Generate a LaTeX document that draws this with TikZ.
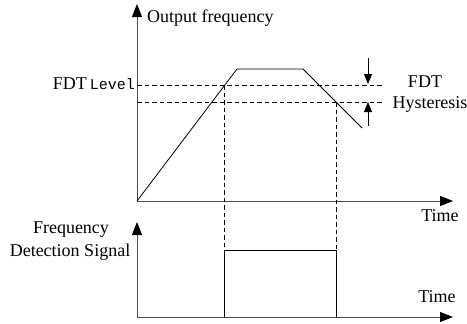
\documentclass[tikz,border=0pt]{standalone}
\usepackage{fontspec}
\setmainfont{Liberation Serif}
\setmonofont{Liberation Mono}
\usetikzlibrary{arrows.meta, positioning, calc}
\tikzstyle{axisline} = [line width=1pt, draw=black!70, -{Triangle[length=13pt,width=10pt,black]}]
\tikzstyle{curve} = [line width=0.8pt]
\tikzstyle{level} = [line width=0.8pt, dash pattern=on 4.5pt off 3pt]
\tikzstyle{hyst} = [line width=0.8pt, -{Triangle[length=10pt,width=8pt]}]
\tikzstyle{txt} = [font=\fontsize{18}{20}\selectfont, inner sep=0pt]

\begin{document}
\begin{tikzpicture}[x=1pt,y=-1pt]
        \useasboundingbox (0,0) rectangle (467,324);
        % axes
        \coordinate (o1) at (137,201);
        \coordinate (y1) at (137,4);
        \coordinate (x1) at (453,201);
        \coordinate (o2) at (137,317);
        \coordinate (y2) at (137,222);
        \coordinate (x2) at (453,317);
        \draw [axisline] (o1) -- (y1);
        \draw [axisline] (o1) -- (x1);
        \draw [axisline] (o2) -- (y2);
        \draw [axisline] (o2) -- (x2);

        % frequency curve
        \coordinate (up) at (224,85);
        \coordinate (down) at (336,102);
        \draw [curve] (o1) -- (237,69) -- (303,69) -- (362,128);

        % levels
        \draw [level] (137,85) -- (383,85);
        \draw [level] (137,102) -- (383,102);
        \draw [level] (up) -- (up |- o2);
        \draw [level] (down) -- (down |- o2);
        \draw [hyst] (368,58) -- (368,84);
        \draw [hyst] (368,126) -- (368,102);

        % detection signal
        \draw [curve] (up |- o2) -- (224,250) -- (336,250) -- (down |- o2);

        \node (outfreq) [txt, anchor=base west] at (147,23) {Output frequency};
        \node (fdtlevel) [txt, anchor=base east] at (135,89) {FDT\,{\fontsize{15}{18}\selectfont\ttfamily Level}};
        \node (fdt) [txt, anchor=base] at (425,88) {FDT};
        \node (hys) [txt, anchor=base] at (430,108) {Hysteresis};
        \node (time1) [txt, anchor=base] at (440,221) {Time};
        \node (time2) [txt, anchor=base] at (437,302) {Time};
        \node (freq) [txt, anchor=base] at (71,233) {Frequency};
        \node (detsig) [txt, anchor=base] at (70,256) {Detection Signal};
    \end{tikzpicture}
\end{document}
